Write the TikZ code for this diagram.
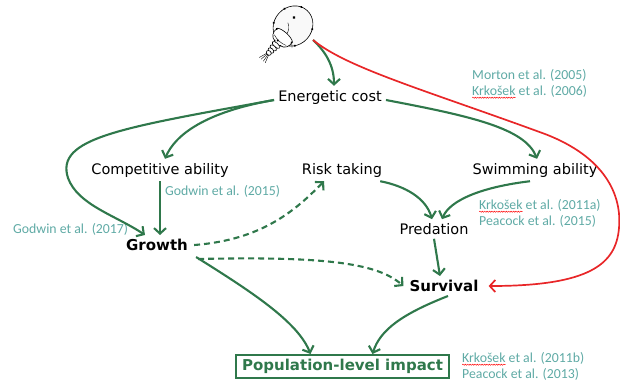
\documentclass[tikz,border=0pt]{standalone}
\usepackage{fontspec}
\setmainfont{DejaVu Sans}
\newfontfamily\reffont{Carlito}
\usepackage{tikz}
\usetikzlibrary{arrows.meta, decorations.pathmorphing}

\definecolor{linkgreen}{RGB}{47,120,75}
\definecolor{refteal}{RGB}{95,170,165}
\definecolor{directred}{RGB}{232,38,40}

% wavy red underline under a word
\newsavebox\spellbox
\newcommand{\spelled}[1]{\sbox\spellbox{#1}\rlap{\tikz[overlay]\draw[red, line width=0.45pt, decorate, decoration={snake, amplitude=0.6pt, segment length=2.4pt}] (0pt,-2.6pt) -- (\wd\spellbox,-2.6pt);}\usebox\spellbox}

\begin{document}
\begin{tikzpicture}[x=1pt, y=-1pt,
  every node/.style={font=\fontsize{14.5}{18}\selectfont},
  factor/.style={inner sep=4pt},
  outcome/.style={inner sep=4pt, font=\fontsize{15}{18}\selectfont\bfseries},
  ref/.style={font=\reffont\fontsize{13.8}{16}\selectfont, text=refteal, anchor=west, align=left, inner sep=0pt},
  link/.style={draw=linkgreen, line width=2.1pt, -{Straight Barb[length=5.5pt, width=12pt]}},
  maybe/.style={link, dash pattern=on 6pt off 4pt},
  direct/.style={draw=directred, line width=1.7pt, -{Straight Barb[length=5.5pt, width=12pt]}}]

\useasboundingbox (0,0) rectangle (620,383);

% copepod
\begin{scope}[shift={(293,26)}, rotate=-42, line width=0.6pt]
\draw[fill=gray!5] (0,0) ellipse [x radius=19, y radius=21];
\fill (-5,-7) circle (1.6);
\draw[line width=0.4pt] (-6,1) .. controls (-2,3) and (0,6) .. (1,11);
\draw[line width=0.4pt] (3,12) .. controls (8,12) and (12,14) .. (14,17);
% thorax with scalloped edge
\draw[fill=white] (-10,12) .. controls (-12,18) and (-8,23) .. (-4,23)
  .. controls (-2,25) and (2,25) .. (4,23) .. controls (8,23) and (12,18) .. (10,12)
  .. controls (6,9) and (-6,9) .. cycle;
\draw[line width=0.4pt] (-8,19) .. controls (-3,21) and (3,21) .. (8,19);
\foreach \y/\r in {25.5/4.6, 29.5/3.9, 33/3.3, 36.2/2.7}
  \draw[fill=white] (0,\y) ellipse [x radius=\r, y radius=2.2];
\foreach \dx in {-4,-1.5,1.5,4}
  \draw[line width=0.4pt] (\dx/3,38) -- (\dx,46);
\foreach \a in {40,95,150,200,250,330}
  \fill (\a:19 and 21) circle (1.2);
\fill (-10,13) circle (1.1) (10,13) circle (1.1) (-4,23) circle (0.9) (4,23) circle (0.9);
\end{scope}
\coordinate (cop) at (313,40);

% factors
\node[factor] (energy) at (330,97) {Energetic cost};
\node[factor] (comp) at (160,170) {Competitive ability};
\node[factor] (risk) at (342,170) {Risk taking};
\node[factor] (swim) at (535,170) {Swimming ability};
\node[factor] (pred) at (434,229) {Predation};

% outcomes
\node[outcome] (growth) at (157,245) {Growth};
\node[outcome] (surv) at (444,286) {Survival};
\node[draw=linkgreen, line width=2pt, text=linkgreen, font=\fontsize{15}{18}\selectfont\bfseries,
  minimum width=213pt, minimum height=23pt, inner sep=0pt] (pop) at (342.5,366.5) {Population-level impact};

% references
\node[ref] (morton) at (472,83) {Morton et al. (2005)\\\spelled{Krkošek} et al. (2006)};
\node[ref] (godwinA) at (165,191) {Godwin et al. (2015)};
\node[ref] (godwinB) at (13,229) {Godwin et al. (2017)};
\node[ref] (krkA) at (479,213) {\spelled{Krkošek} et al. (2011a)\\Peacock et al. (2015)};
\node[ref] (krkB) at (462,366) {\spelled{Krkošek} et al. (2011b)\\Peacock et al. (2013)};

% links
\draw[link] (cop) .. controls (326,52) and (334,66) .. ([xshift=4pt]energy.north);
\draw[link] ([yshift=-3pt]energy.west) .. controls (205,112) and (175,135) .. ([xshift=5pt]comp.north);
\draw[link] ([yshift=-3pt]energy.west) .. controls (120,128) and (55,138) .. (68,178)
  .. controls (78,205) and (115,215) .. ([xshift=-12pt]growth.north);
\draw[link] ([yshift=-3pt]energy.east) .. controls (470,116) and (525,128) .. ([xshift=2pt]swim.north);
\draw[link] (comp.south) -- ([xshift=3pt]growth.north);
\draw[link] ([xshift=-6pt]risk.south east) .. controls (405,186) and (426,198) .. ([xshift=-2pt]pred.north);
\draw[link] ([xshift=-5pt]swim.south) .. controls (482,187) and (450,200) .. ([xshift=8pt]pred.north);
\draw[link] (pred.south) -- ([xshift=-4pt]surv.north);
\draw[link] ([xshift=4pt,yshift=-2pt]growth.south east) .. controls (252,292) and (298,322) .. ([xshift=-32pt]pop.north);
\draw[link] ([xshift=4pt]surv.south) .. controls (402,314) and (380,330) .. ([xshift=30pt]pop.north);

% possible links
\draw[maybe] ([xshift=2pt]growth.east) .. controls (262,240) and (296,210) .. ([xshift=-18pt]risk.south);
\draw[maybe] ([xshift=6pt,yshift=-4pt]growth.south east) .. controls (330,256) and (378,264) .. ([xshift=-2pt]surv.west);

% direct effect
\draw[direct] (cop) .. controls (347,68) and (425,90) .. (545,134)
  .. controls (605,157) and (622,195) .. (619,228)
  .. controls (616,264) and (590,286) .. ([xshift=6pt]surv.east);

\end{tikzpicture}
\end{document}
